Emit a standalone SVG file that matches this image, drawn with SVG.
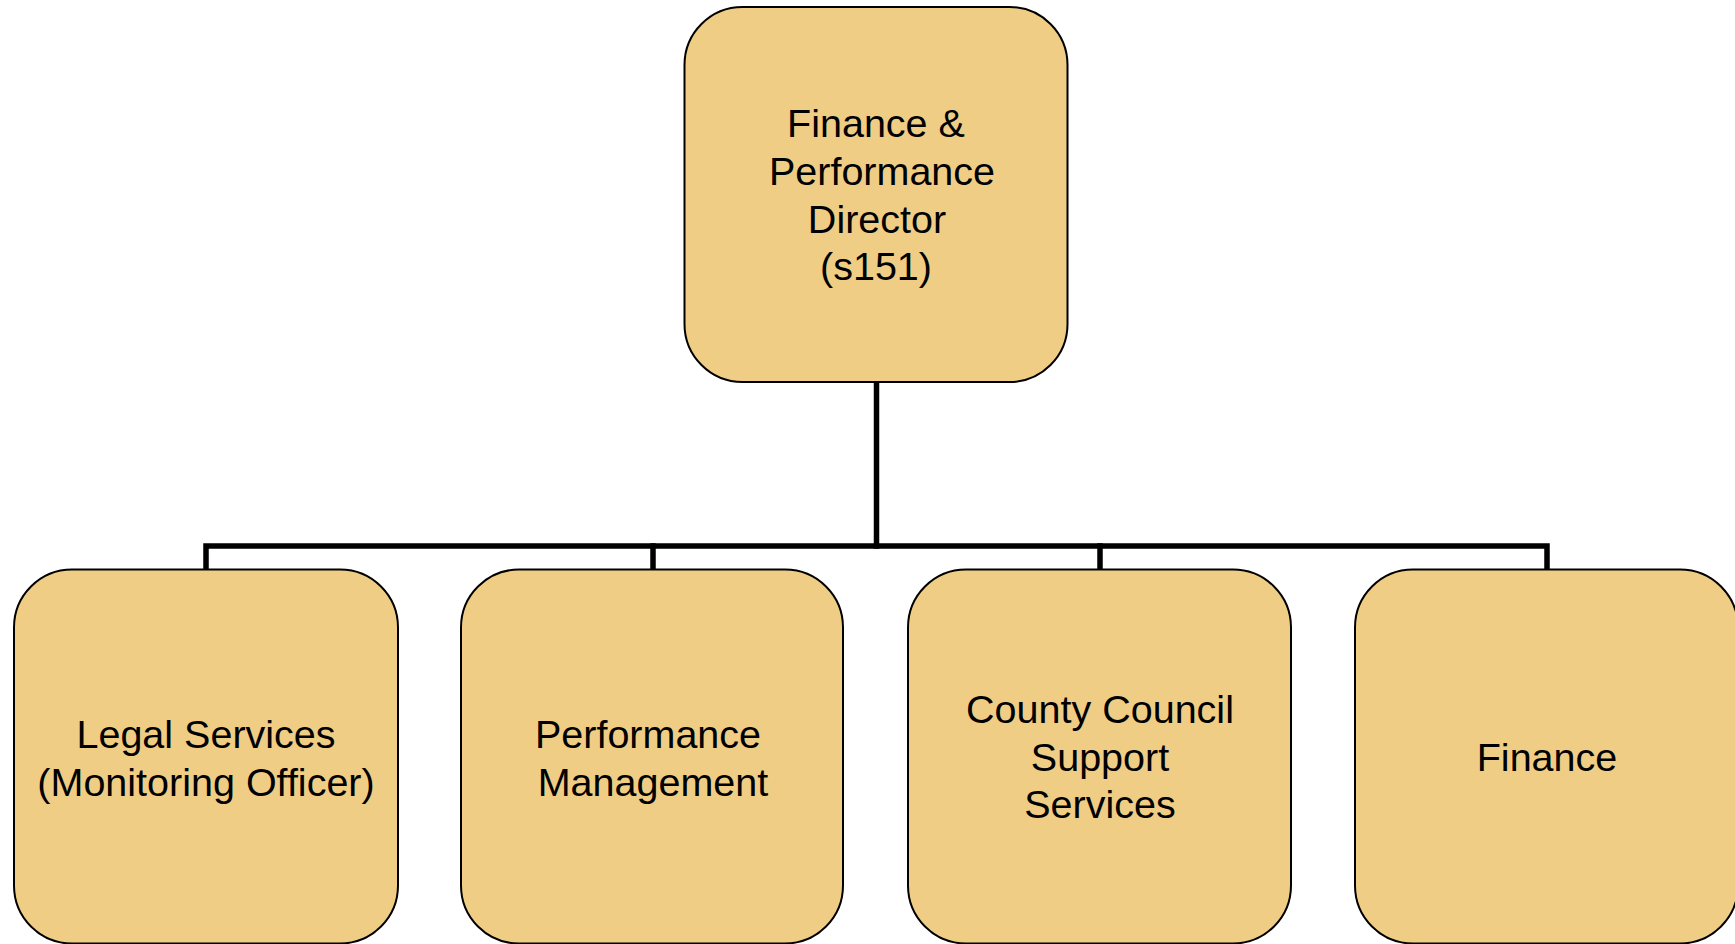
<svg xmlns="http://www.w3.org/2000/svg" width="1735" height="944" viewBox="0 0 1735 944">
<style>
.box{fill:#f0cd85;stroke:#000;stroke-width:2}
.t{font-family:"Liberation Sans",Arial,Helvetica,sans-serif;font-size:39.5px;fill:#000;text-anchor:middle}
.c{stroke:#000;stroke-width:5.5;fill:none;stroke-linecap:square}
</style>
<rect width="1735" height="944" fill="#fff"/>
<g id="connectors">
<path class="c" d="M876.5 383 V546"/>
<path class="c" d="M206 569 V546 H1547 V569"/>
<path class="c" d="M653 546 V569"/>
<path class="c" d="M1100 546 V569"/>
</g>
<g id="director">
<rect class="box" x="684.5" y="7" width="383" height="375" rx="58" ry="58"/>
<text class="t" x="876" y="137">Finance &amp;</text>
<text class="t" x="882" y="185">Performance</text>
<text class="t" x="877" y="233">Director</text>
<text class="t" x="876" y="280">(s151)</text>
</g>
<g id="legal">
<rect class="box" x="14" y="569.5" width="384" height="374" rx="58" ry="58"/>
<text class="t" x="206" y="748">Legal Services</text>
<text class="t" x="206" y="796">(Monitoring Officer)</text>
</g>
<g id="performance">
<rect class="box" x="461" y="569.5" width="382" height="374" rx="58" ry="58"/>
<text class="t" x="648" y="748">Performance</text>
<text class="t" x="653" y="796">Management</text>
</g>
<g id="county">
<rect class="box" x="908" y="569.5" width="383" height="374" rx="58" ry="58"/>
<text class="t" x="1100" y="723">County Council</text>
<text class="t" x="1100" y="771">Support</text>
<text class="t" x="1100" y="818">Services</text>
</g>
<g id="finance">
<rect class="box" x="1355" y="569.5" width="383" height="374" rx="58" ry="58"/>
<text class="t" x="1547" y="771">Finance</text>
</g>
</svg>
